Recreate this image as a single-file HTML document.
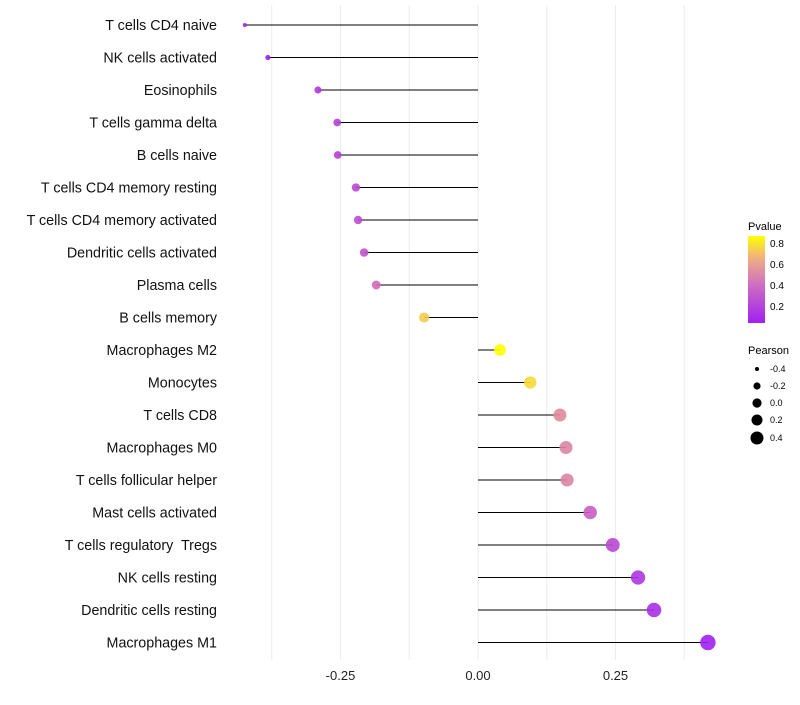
<!DOCTYPE html>
<html><head><meta charset="utf-8"><style>
body{margin:0;background:#fff;font-family:"Liberation Sans",sans-serif}
text{white-space:pre}
</style></head><body>
<svg id="chart" width="800" height="700" xmlns="http://www.w3.org/2000/svg">
<defs><linearGradient id="pg" x1="0" y1="1" x2="0" y2="0">
<stop offset="0" stop-color="#A020F0"/><stop offset="0.45" stop-color="#D070C0"/><stop offset="0.75" stop-color="#F0B080"/><stop offset="1" stop-color="#FFFF00"/></linearGradient></defs>
<g id="grid"></g><g id="marks"></g><g id="labels"></g>
<g font-size="10" fill="#000">
<text x="748" y="230" font-size="11">Pvalue</text>
<rect x="748" y="236" width="17" height="87" fill="url(#pg)"/>
<text x="770" y="247">0.8</text><text x="770" y="268">0.6</text><text x="770" y="289">0.4</text><text x="770" y="310">0.2</text>
</g>
<g font-size="9" fill="#000">
<text x="748" y="354" font-size="11">Pearson</text>
<circle cx="757" cy="369" r="2"/><text x="770" y="372">-0.4</text>
<circle cx="757" cy="386" r="3.6"/><text x="770" y="389">-0.2</text>
<circle cx="757" cy="403" r="4.6"/><text x="770" y="406">0.0</text>
<circle cx="757" cy="420" r="5.5"/><text x="770" y="423">0.2</text>
<circle cx="757" cy="438" r="6.5"/><text x="770" y="441">0.4</text>
</g>
</svg>
<script>
const categories=["T cells CD4 naive","NK cells activated","Eosinophils","T cells gamma delta","B cells naive","T cells CD4 memory resting","T cells CD4 memory activated","Dendritic cells activated","Plasma cells","B cells memory","Macrophages M2","Monocytes","T cells CD8","Macrophages M0","T cells follicular helper","Mast cells activated","T cells regulatory  Tregs","NK cells resting","Dendritic cells resting","Macrophages M1"];
const pearson=[-0.424,-0.382,-0.291,-0.256,-0.255,-0.222,-0.218,-0.207,-0.185,-0.098,0.040,0.095,0.149,0.160,0.162,0.204,0.245,0.291,0.320,0.418];
const pvalue=[0.03,0.04,0.17,0.22,0.22,0.26,0.28,0.31,0.42,0.72,0.87,0.76,0.52,0.50,0.50,0.37,0.25,0.15,0.12,0.04];
const xTicks=[-0.25,0,0.25];
const xTickLabels=["-0.25","0.00","0.25"];
const NS="http://www.w3.org/2000/svg";
const xs=v=>478+v*550;
const ys=i=>25+i*32.5;
const rs=p=>Math.sqrt(Math.max(4,4+(p+0.424)*66));
function col(p){
 const stops=[[0.04,[160,32,240]],[0.4,[204,100,190]],[0.62,[238,170,130]],[0.87,[255,255,0]]];
 if(p<=stops[0][0])return "rgb(160,32,240)";
 for(let k=1;k<stops.length;k++){if(p<=stops[k][0]){const a=stops[k-1],b=stops[k],t=(p-a[0])/(b[0]-a[0]);return "rgb("+a[1].map((c,j)=>Math.round(c+(b[1][j]-c)*t)).join(",")+")";}}
 return "rgb(255,255,0)";
}
function mk(tag,attrs,parent){const e=document.createElementNS(NS,tag);for(const k in attrs)e.setAttribute(k,attrs[k]);parent.appendChild(e);return e;}
const grid=document.getElementById('grid'),marks=document.getElementById('marks'),labels=document.getElementById('labels');
[-0.375,-0.25,-0.125,0,0.125,0.25,0.375].forEach(v=>{
 const l=mk('line',{x1:xs(v),x2:xs(v),y1:5,y2:660,stroke:'#ececec','stroke-width':1},grid);
 
 
});
xTicks.forEach((v,i)=>{
 const t=mk('text',{x:xs(v),y:680,'text-anchor':'middle','font-size':13,fill:'#222'},labels);
 t.textContent=xTickLabels[i];
 
 
});
categories.forEach((c,i)=>{
 const y=ys(i);
 const t=mk('text',{x:217,y:y+5,'text-anchor':'end','font-size':14.3,fill:'#111'},labels);
 t.textContent=c;
 
 
 const l=mk('line',{x1:xs(0),x2:xs(pearson[i]),y1:y,y2:y,stroke:'#000','stroke-width':1},marks);
 
 
 const d=mk('circle',{cx:xs(pearson[i]),cy:y,r:rs(pearson[i]),fill:col(pvalue[i]),'fill-opacity':0.9},marks);
 
 
});
</script>
</body></html>
